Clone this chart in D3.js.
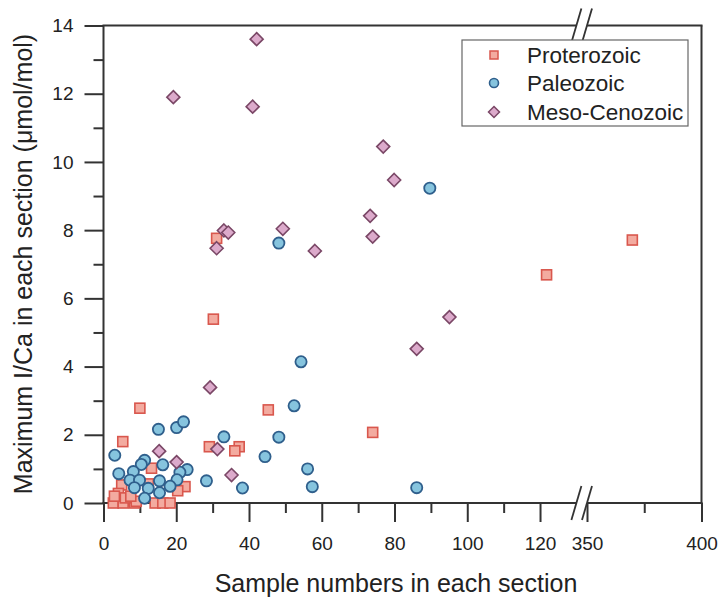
<!DOCTYPE html>
<html>
<head>
<meta charset="utf-8">
<script src="https://cdn.jsdelivr.net/npm/d3@7"></script>
<style>
body{margin:0;background:#fff;}
svg{display:block;font-family:"Liberation Sans",Arial,sans-serif;}
</style>
</head>
<body>
<script>
// data: [sample number, max I/Ca]
var proterozoic=[[31.1,7.76],[30.2,5.39],[121.8,6.69],[369.8,7.71],[45.3,2.73],[74.0,2.07],[10.0,2.78],
	[5.3,1.80],[29.1,1.65],[37.3,1.65],[36.1,1.53],[13.2,1.02],[22.4,0.48],[20.4,0.36],[12.3,0.56],
	[5.0,0.53],[3.6,0.09],[4.1,0.28],[6.8,0.09],[2.7,0.0],[5.4,0.0],[14.2,0.0],[16.3,0.0],[18.3,0.0],
	[8.5,0.0],[3.0,0.2],[6.0,0.15],[9.0,0.05],[7.5,0.2]];
var paleozoic=[[89.7,9.23],[48.2,7.62],[54.3,4.14],[52.4,2.85],[33.1,1.94],[48.2,1.93],[44.4,1.36],
	[56.1,1.0],[28.3,0.65],[38.2,0.44],[57.4,0.48],[86.1,0.45],[15.1,2.16],[20.1,2.21],[22.0,2.38],
	[3.1,1.40],[11.3,1.25],[10.4,1.13],[16.3,1.12],[23.0,0.98],[21.0,0.90],[4.2,0.86],[8.2,0.92],
	[7.3,0.67],[9.9,0.67],[15.4,0.65],[20.2,0.68],[8.5,0.45],[12.3,0.43],[18.3,0.49],[15.4,0.30],[11.3,0.14]];
var mesoCenozoic=[[42.1,13.6],[19.2,11.9],[41.0,11.62],[76.9,10.45],[79.9,9.47],[73.3,8.42],[74.0,7.81],
	[49.3,8.04],[58.1,7.39],[33.1,7.99],[34.3,7.93],[31.1,7.47],[95.1,5.45],[86.1,4.52],[29.3,3.39],
	[31.3,1.58],[35.2,0.82],[15.3,1.52],[20.1,1.20]];

var seriesNames=["Proterozoic","Paleozoic","Meso-Cenozoic"];
var xMajor=[0,20,40,60,80,100,120,350,400];
var xMinor=[10,30,50,70,90,110,375];
var yMajor=[0,2,4,6,8,10,12,14];
var yMinor=[1,3,5,7,9,11,13];

var W=719,H=597;
var pLeft=103.5,pRight=701.5,pTop=25.5,pBottom=503;
var breakA=576.4,breakB=587;	//x axis is cut between 130 and 350

var svg=d3.select("body").append("svg").attr("width",W).attr("height",H);

// piecewise scale does the axis break
var x=d3.scaleLinear().domain([0,130,350,400]).range([pLeft,breakA,breakB,pRight]);
var y=d3.scaleLinear().domain([0,14]).range([pBottom,pTop]);

var ink="#333";

function styleAxis(g){
	g.select(".domain").remove();
	g.selectAll("line").attr("stroke",ink).attr("stroke-width",2);
	g.selectAll("text").attr("fill","#222").style("font-size","19px").style("font-family","'Liberation Sans',Arial,sans-serif");
}

// x axis ticks
svg.append("g").attr("transform","translate(0,"+pBottom+")")
	.call(d3.axisBottom(x).tickValues(xMajor).tickSize(19).tickPadding(15).tickFormat(d3.format("d")))
	.call(styleAxis);
svg.append("g").attr("transform","translate(0,"+pBottom+")")
	.call(d3.axisBottom(x).tickValues(xMinor).tickSize(10).tickFormat(""))
	.call(styleAxis);

// y axis ticks
svg.append("g").attr("transform","translate("+pLeft+",0)")
	.call(d3.axisLeft(y).tickValues(yMajor).tickSize(19).tickPadding(11).tickFormat(d3.format("d")))
	.call(styleAxis);
svg.append("g").attr("transform","translate("+pLeft+",0)")
	.call(d3.axisLeft(y).tickValues(yMinor).tickSize(10).tickFormat(""))
	.call(styleAxis);

// frame, broken on top and bottom
var frame=svg.append("g").attr("stroke",ink).attr("stroke-width",2).attr("fill","none");
frame.append("line").attr("x1",pLeft).attr("x2",pLeft).attr("y1",pTop).attr("y2",pBottom);
frame.append("line").attr("x1",pRight).attr("x2",pRight).attr("y1",pTop).attr("y2",pBottom+1);
[pBottom,pTop].forEach(function(yy){
	frame.append("line").attr("x1",pLeft-1).attr("x2",breakA).attr("y1",yy).attr("y2",yy);
	frame.append("line").attr("x1",breakB).attr("x2",pRight+1).attr("y1",yy).attr("y2",yy);
	[breakA,breakB].forEach(function(bx){
		frame.append("line").attr("x1",bx-5).attr("y1",yy+17).attr("x2",bx+5).attr("y2",yy-17)
			.attr("stroke-width",1.8);
	});
});

// markers
var sq=10,cr=5.6,dm=6.5;
var plot=svg.append("g");

function drawSquares(g,data,s){
	g.selectAll("rect.p").data(data).enter().append("rect").attr("class","p")
		.attr("x",function(d){return x(d[0])-s/2;})
		.attr("y",function(d){return y(d[1])-s/2;})
		.attr("width",s).attr("height",s)
		.attr("fill","#f3aba0").attr("stroke","#d9574d").attr("stroke-width",1.6);
}
function drawCircles(g,data,r){
	g.selectAll("circle.p").data(data).enter().append("circle").attr("class","p")
		.attr("cx",function(d){return x(d[0]);})
		.attr("cy",function(d){return y(d[1]);})
		.attr("r",r)
		.attr("fill","#86c4de").attr("stroke","#2f5f8c").attr("stroke-width",1.8);
}
function drawDiamonds(g,data,r){
	g.selectAll("path.p").data(data).enter().append("path").attr("class","p")
		.attr("d",function(d){
			var cx=x(d[0]),cy=y(d[1]);
			return "M"+cx+","+(cy-r)+"L"+(cx+r)+","+cy+"L"+cx+","+(cy+r)+"L"+(cx-r)+","+cy+"Z";
		})
		.attr("fill","#dcaacb").attr("stroke","#7a4766").attr("stroke-width",1.6);
}

drawSquares(plot.append("g"),proterozoic,sq);
drawCircles(plot.append("g"),paleozoic,cr);
drawDiamonds(plot.append("g"),mesoCenozoic,dm);

// legend
var lg=svg.append("g");
lg.append("rect").attr("x",462).attr("y",40).attr("width",226).attr("height",86)
	.attr("fill","#fff").attr("stroke","#666").attr("stroke-width",1.2);
var rows=[55,83,112];
lg.append("rect").attr("x",494-4).attr("y",rows[0]-4).attr("width",8).attr("height",8)
	.attr("fill","#f3aba0").attr("stroke","#d9574d").attr("stroke-width",1.5);
lg.append("circle").attr("cx",494).attr("cy",rows[1]).attr("r",4.5)
	.attr("fill","#86c4de").attr("stroke","#2f5f8c").attr("stroke-width",1.6);
lg.append("path").attr("d","M494,"+(rows[2]-5.5)+"L499.5,"+rows[2]+"L494,"+(rows[2]+5.5)+"L488.5,"+rows[2]+"Z")
	.attr("fill","#dcaacb").attr("stroke","#7a4766").attr("stroke-width",1.5);
lg.selectAll("text").data(seriesNames).enter().append("text")
	.attr("x",527).attr("y",function(d,i){return rows[i];}).attr("dy","0.36em")
	.attr("fill","#222").style("font-size","22.5px").text(function(d){return d;});

// axis titles
svg.append("text").attr("x",396).attr("y",592).attr("text-anchor","middle")
	.attr("fill","#222").style("font-size","25px").text("Sample numbers in each section");
svg.append("text").attr("transform","translate(32,264) rotate(-90)").attr("text-anchor","middle")
	.attr("fill","#222").style("font-size","25px").text("Maximum I/Ca in each section (\u03bcmol/mol)");
</script>
</body>
</html>
